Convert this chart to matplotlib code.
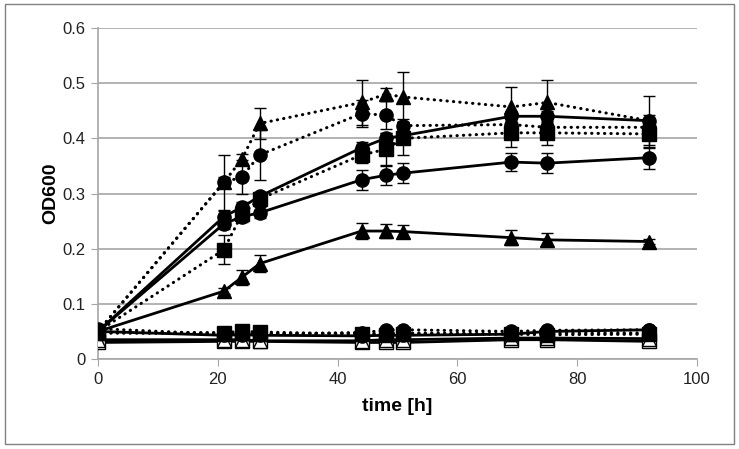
import numpy as np
import matplotlib.pyplot as plt
from matplotlib.patches import Rectangle

plt.rcParams['font.family'] = ['Liberation Sans', 'DejaVu Sans']

# sampling times [h]
time = [0, 21, 24, 27, 44, 48, 51, 69, 75, 92]

# growing cultures
dot_tri = [0.05, 0.32, 0.362, 0.427, 0.465, 0.48, 0.475, 0.457, 0.465, 0.432]
dot_tri_err = [0.005, 0.01, 0.01, 0.028, 0.04, 0.012, 0.045, 0.036, 0.04, 0.044]
dot_circ = [0.05, 0.32, 0.33, 0.37, 0.445, 0.442, 0.423, 0.425, 0.42, 0.42]
dot_circ_err = [0.005, 0.05, 0.03, 0.045, 0.025, 0.025, 0.012, 0.015, 0.015, 0.012]
dot_sq = [0.05, 0.198, 0.262, 0.29, 0.37, 0.38, 0.40, 0.41, 0.41, 0.408]
dot_sq_err = [0.005, 0.026, 0.01, 0.01, 0.015, 0.03, 0.03, 0.025, 0.022, 0.025]
sol_up = [0.05, 0.258, 0.275, 0.295, 0.383, 0.40, 0.405, 0.44, 0.44, 0.432]
sol_up_err = [0.005, 0.01, 0.01, 0.008, 0.01, 0.01, 0.01, 0.01, 0.01, 0.01]
sol_circ = [0.05, 0.245, 0.258, 0.265, 0.325, 0.333, 0.337, 0.357, 0.355, 0.365]
sol_circ_err = [0.005, 0.01, 0.01, 0.01, 0.018, 0.018, 0.018, 0.017, 0.018, 0.02]
sol_tri = [0.05, 0.123, 0.148, 0.173, 0.232, 0.232, 0.231, 0.220, 0.216, 0.213]
sol_tri_err = [0.005, 0.005, 0.013, 0.016, 0.015, 0.012, 0.012, 0.013, 0.012, 0.005]

# controls (no growth)
low_dot_tri = [0.047, 0.046, 0.047, 0.046, 0.047, 0.046, 0.047, 0.046, 0.047, 0.047]
low_dot_circ = [0.055, 0.045, 0.046, 0.045, 0.048, 0.052, 0.053, 0.05, 0.052, 0.053]
low_dot_sq = [0.048, 0.048, 0.05, 0.049, 0.045, 0.044, 0.046, 0.045, 0.044, 0.045]
low_sol_circ = [0.05, 0.043, 0.044, 0.043, 0.042, 0.043, 0.043, 0.045, 0.05, 0.053]
low_sol_sq = [0.03, 0.032, 0.032, 0.032, 0.03, 0.03, 0.03, 0.035, 0.035, 0.032]
low_sol_tri = [0.035, 0.035, 0.035, 0.033, 0.033, 0.035, 0.035, 0.038, 0.038, 0.037]
low_err = [0.003] * 10

fig = plt.figure(figsize=(7.39, 4.49), dpi=100)
ax = fig.add_axes([0.1326, 0.2004, 0.8106, 0.7372])
fig.patches.append(Rectangle((0.007, 0.011), 0.986, 0.98, transform=fig.transFigure,
                             fill=False, edgecolor='#808080', linewidth=1))

DOTS = (0, (0.1, 2.0))

def series(y, err, marker, ls, face='black', ms=9.5):
    line, caps, bars = ax.errorbar(time, y, yerr=err, color='black', marker=marker,
                                   markersize=ms, markerfacecolor=face,
                                   markeredgecolor='black', linestyle=ls,
                                   linewidth=2.2 if ls == DOTS else 2,
                                   ecolor='black', elinewidth=1, capsize=4,
                                   capthick=1, zorder=3)
    line.set_dash_capstyle('round')

series(low_sol_sq, low_err, 's', '-', face='white')
series(low_sol_tri, low_err, '^', '-', face='white')
series(low_sol_circ, low_err, 'o', '-')
series(low_dot_sq, low_err, 's', DOTS)
series(low_dot_circ, low_err, 'o', DOTS)
series(low_dot_tri, low_err, '^', DOTS)

series(sol_tri, sol_tri_err, '^', '-')
series(sol_circ, sol_circ_err, 'o', '-')
series(sol_up, sol_up_err, 'o', '-')
series(dot_sq, dot_sq_err, 's', DOTS)
series(dot_circ, dot_circ_err, 'o', DOTS)
series(dot_tri, dot_tri_err, '^', DOTS)

ax.set_xlim(0, 100)
ax.set_ylim(0, 0.6)
ax.set_xticks([0, 20, 40, 60, 80, 100])
ax.set_yticks([0, 0.1, 0.2, 0.3, 0.4, 0.5, 0.6])
ax.set_yticklabels(['0', '0.1', '0.2', '0.3', '0.4', '0.5', '0.6'])
ax.yaxis.grid(True, color='#a6a6a6', linewidth=1.2)
ax.set_axisbelow(True)
for s in ['top', 'right']:
    ax.spines[s].set_visible(False)
for s in ['left', 'bottom']:
    ax.spines[s].set_color('#a6a6a6')
    ax.spines[s].set_linewidth(1.2)
ax.tick_params(direction='out', length=5, color='#a6a6a6', labelsize=12,
               labelcolor='#222222', pad=4)
ax.set_xlabel('time [h]', fontsize=14, fontweight='bold', labelpad=8)
ax.set_ylabel('OD600', fontsize=14, fontweight='bold', labelpad=2)

fig.savefig('out.png', dpi=100)
